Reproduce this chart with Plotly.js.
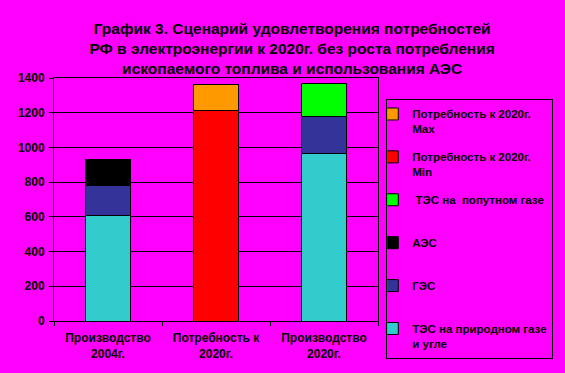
<!DOCTYPE html>
<html>
<head>
<meta charset="utf-8">
<script src="https://cdn.plot.ly/plotly-3.0.1.min.js"></script>
<style>html,body{margin:0;padding:0;background:#FF00FF;}#chart{width:565px;height:373px;}</style>
</head>
<body>
<div id="chart"></div>
<script>
var categories = ["Производство<br>2004г.", "Потребность к<br>2020г.", "Производство<br>2020г."];
var tesNatural = [610, null, 965];
var ges = [170, null, 215];
var aes = [150, null, null];
var tesAssoc = [null, null, 190];
var demandMin = [null, 1210, null];
var demandMax = [null, 150, null];
var seriesNames = [
  "ТЭС на природном газе<br>и угле",
  "ГЭС<br>\u00a0",
  "АЭС<br>\u00a0",
  " ТЭС на  попутном газе<br>\u00a0",
  "Потребность к 2020г.<br>Min",
  "Потребность к 2020г.<br>Max"
];
var seriesValues = [tesNatural, ges, aes, tesAssoc, demandMin, demandMax];
var seriesColors = ["#33CCCC", "#333399", "#000000", "#00FF00", "#FF0000", "#FF9900"];
var yTicks = [0, 200, 400, 600, 800, 1000, 1200, 1400];

var traces = seriesValues.map(function(vals, i){
  return {
    type: "bar",
    x: categories,
    y: vals,
    name: seriesNames[i],
    legendgroup: "g" + i,
    legendrank: seriesValues.length - i,
    marker: {color: seriesColors[i], line: {color: "#000000", width: 1}},
    hoverinfo: "none"
  };
});

var fam = "Liberation Sans, Arial, sans-serif";

var layout = {
  width: 565, height: 373,
  paper_bgcolor: "#FF00FF", plot_bgcolor: "#FF00FF",
  margin: {l: 54, r: 182, t: 78, b: 52, pad: 0},
  barmode: "stack",
  bargap: 0.59,
  showlegend: true,
  title: {
    text: "График 3. Сценарий удовлетворения потребностей<br>РФ в электроэнергии к 2020г. без роста потребления<br>ископаемого топлива и использования АЭС",
    font: {family: fam, size: 15.5, color: "#000000", weight: "bold"},
    x: 0.517, xanchor: "center", xref: "container",
    y: 0.91, yanchor: "top", yref: "container"
  },
  xaxis: {
    type: "category",
    tickson: "boundaries",
    ticks: "outside", ticklen: 4, tickcolor: "#000000",
    ticklabelstandoff: 6,
    showline: true, linecolor: "#000000", linewidth: 1, mirror: true,
    showgrid: false,
    tickfont: {family: fam, size: 12, color: "#000000", weight: "bold"},
    fixedrange: true
  },
  yaxis: {
    range: [0, 1400],
    tickvals: yTicks,
    ticktext: yTicks.map(String),
    ticks: "outside", ticklen: 4, tickcolor: "#000000",
    ticklabelstandoff: 2,
    showline: true, linecolor: "#000000", linewidth: 1, mirror: true,
    showgrid: true, gridcolor: "#000000", gridwidth: 1,
    zeroline: false,
    tickfont: {family: fam, size: 12, color: "#000000", weight: "bold"},
    fixedrange: true
  },
  legend: {
    x: 1.541, xanchor: "right", xref: "paper",
    y: 0.9136, yanchor: "top", yref: "paper",
    maxheight: 340,
    bgcolor: "#FF00FF", bordercolor: "#000000", borderwidth: 1,
    traceorder: "grouped",
    tracegroupgap: 10,
    valign: "top",
    indentation: -15,
    font: {family: fam, size: 11.5, color: "#000000", weight: "bold"}
  }
};

Plotly.newPlot("chart", traces, layout, {staticPlot: true, displayModeBar: false});
</script>
</body>
</html>
